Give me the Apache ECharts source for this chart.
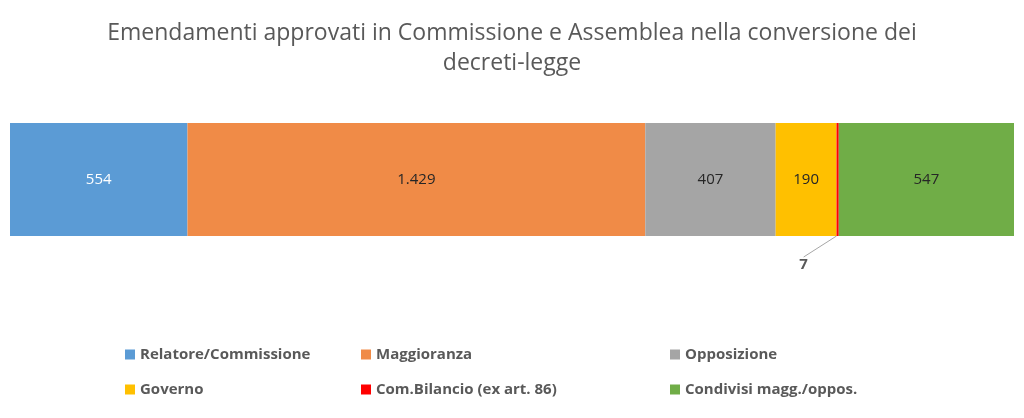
<!DOCTYPE html>
<html>
  <head>
    <meta charset="utf-8" />
    <title>Emendamenti approvati</title>
    <script src="https://cdn.jsdelivr.net/npm/echarts@6/dist/echarts.min.js"></script>
  </head>
  <body style="margin:0">
    <div id="main" style="width: 1024px; height: 418px"></div>
    <script type="text/javascript">
      var categories = ["Emendamenti"];
      var seriesNames = [
        "Relatore/Commissione",
        "Maggioranza",
        "Opposizione",
        "Governo",
        "Com.Bilancio (ex art. 86)",
        "Condivisi magg./oppos."
      ];
      var seriesValues = [554, 1429, 407, 190, 7, 547];
      var seriesColors = ["#5B9BD5", "#F08B47", "#A5A5A5", "#FFC000", "#FF0000", "#70AD47"];
      var labelColors = ["#FFFFFF", "#262626", "#262626", "#262626", "#595959", "#262626"];

      var total = 0;
      for (var i = 0; i < seriesValues.length; i++) total += seriesValues[i];

      function fmt(v) {
        return String(v).replace(/\B(?=(\d{3})+(?!\d))/g, ".");
      }

      var series = [];
      for (var i = 0; i < seriesNames.length; i++) {
        var s = {
          name: seriesNames[i],
          type: "bar",
          stack: "Total",
          barWidth: "100%",
          itemStyle: { color: seriesColors[i] },
          label: {
            show: true,
            position: "inside",
            color: labelColors[i],
            fontSize: 15,
            fontFamily: "Open Sans",
            formatter: function (p) { return fmt(p.value); }
          },
          data: [seriesValues[i]]
        };
        if (seriesValues[i] < 20) {
          // tiny slice: label pulled below with a leader line
          s.label.position = "bottom";
          s.label.fontWeight = "bold";
          s.labelLayout = { dx: -34, dy: 16 };
          s.labelLine = { show: true, lineStyle: { color: "#A6A6A6", width: 1 } };
        }
        series.push(s);
      }

      var legendText = { color: "#595959", fontSize: 15, fontWeight: "bold", fontFamily: "Open Sans" };
      function makeLegend(left, names) {
        return {
          orient: "vertical",
          left: left,
          top: 342,
          itemWidth: 10,
          itemHeight: 10,
          itemGap: 20,
          icon: "rect",
          textStyle: legendText,
          data: names
        };
      }

      var myChart = echarts.init(document.getElementById("main"));
      var option = {
        animation: false,
        title: {
          text: "Emendamenti approvati in Commissione e Assemblea nella conversione dei\ndecreti-legge",
          left: "center",
          top: 13,
          textStyle: { color: "#595959", fontSize: 23, fontWeight: "normal", fontFamily: "Open Sans", lineHeight: 30 }
        },
        legend: [
          makeLegend(120, [seriesNames[0], seriesNames[3]]),
          makeLegend(356, [seriesNames[1], seriesNames[4]]),
          makeLegend(665, [seriesNames[2], seriesNames[5]])
        ],
        grid: { left: 10, right: 10, top: 123, height: 113 },
        xAxis: { type: "value", min: 0, max: total, show: false },
        yAxis: { type: "category", data: categories, show: false },
        series: series
      };
      myChart.setOption(option);
    </script>
  </body>
</html>
